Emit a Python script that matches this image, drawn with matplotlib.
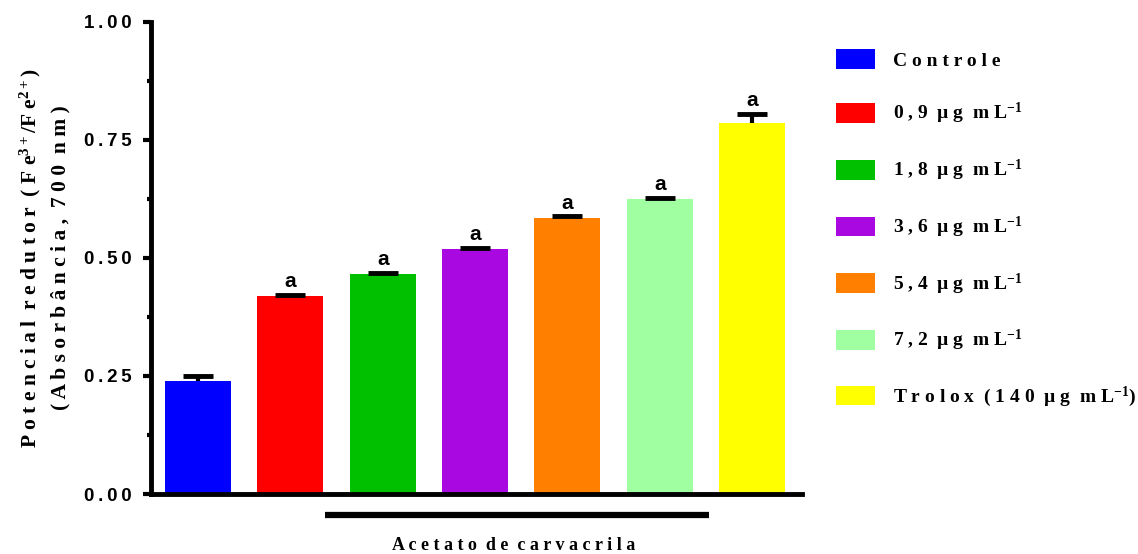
import numpy as np
import matplotlib
matplotlib.use("Agg")
import matplotlib.pyplot as plt

plt.rcParams['mathtext.fontset'] = 'custom'
plt.rcParams['mathtext.rm'] = 'Liberation Serif:bold'
plt.rcParams['mathtext.bf'] = 'Liberation Serif:bold'
plt.rcParams['mathtext.default'] = 'rm'

groups = ["Controle", "0,9 µg mL", "1,8 µg mL", "3,6 µg mL", "5,4 µg mL", "7,2 µg mL", "Trolox (140 µg mL"]
values = [0.239, 0.419, 0.466, 0.519, 0.585, 0.625, 0.786]
errors = [0.011, 0.003, 0.003, 0.003, 0.003, 0.002, 0.019]
letters = ["", "a", "a", "a", "a", "a", "a"]
colors = ["#0000ff", "#ff0000", "#00c000", "#aa08e0", "#ff8000", "#a0ffa0", "#ffff00"]
yticks = [0.00, 0.25, 0.50, 0.75, 1.00]


def spaced(s, gap=" ", word=None):
    word = word if word is not None else gap + gap
    return word.join(gap.join(w) for w in s.split(" "))


def legend_label(s):
    if s == "Controle":
        return spaced(s)
    if s.startswith("Trolox"):
        return spaced(s) + "$^{-1}$" + ")"
    return spaced(s) + "$^{-1}$"


fig = plt.figure(figsize=(11.38, 5.54), dpi=100)
ax = fig.add_axes([0.1327, 0.1083, 0.572, 0.852])

x = np.arange(len(values))
bars = ax.bar(x, values, width=0.714, color=colors, edgecolor="none", zorder=2)
eb = ax.errorbar(x, values, yerr=[np.zeros(len(errors)), errors], fmt="none",
                 ecolor="black", elinewidth=3, capsize=10.5, capthick=3.5, zorder=3)
# keep only the upper caps
for cap in eb[1]:
    if np.allclose(cap.get_ydata(), values):
        cap.set_visible(False)

for xi, v, e, t in zip(x, values, errors, letters):
    if t:
        ax.text(xi, v + e + 0.008, t, ha="center", va="bottom",
                fontsize=15, fontweight="bold",
                family=["Liberation Sans Narrow", "Liberation Sans"])

ax.set_xlim(-0.51, 6.54)
ax.set_ylim(0, 1.0)
ax.set_yticks(yticks)
ax.set_yticklabels([spaced(f"{t:.2f}", "\u2009") for t in yticks], fontsize=13.5,
                   fontweight="bold", family="Liberation Sans")
ax.set_yticks(np.arange(0.125, 1.0, 0.25), minor=True)
ax.set_xticks([])
for s in ["top", "right"]:
    ax.spines[s].set_visible(False)
for s in ["left", "bottom"]:
    ax.spines[s].set_linewidth(3.5)
ax.tick_params(axis="y", which="major", length=6, width=3, pad=8)
ax.tick_params(axis="y", which="minor", length=3, width=3)

g = " "
w = "  "
ylab = (spaced("Potencial redutor (Fe", g, w) + "$^{3+}$" + "/" + "F" + g + "e"
        + "$^{2+}$" + ")\n" + spaced("(Absorbância, 700 nm)", g, w))
ax.set_ylabel(ylab, fontsize=15.5, family="Liberation Serif", fontweight="bold",
              labelpad=10, linespacing=1.45)

# group line for carvacryl acetate concentrations
trans = ax.get_xaxis_transform()
ax.plot([1.37, 5.53], [-0.0445, -0.0445], color="black", lw=4.5,
        transform=trans, clip_on=False, solid_capstyle="butt")
ax.text(3.42, -0.11, spaced("Acetato de carvacrila"), transform=trans,
        ha="center", va="center", fontsize=13, fontweight="bold",
        family="Liberation Serif")

leg = ax.legend(bars, [legend_label(g) for g in groups],
                loc="upper left", bbox_to_anchor=(0.728, 0.925),
                bbox_transform=fig.transFigure, frameon=False,
                prop={"family": "Liberation Serif", "weight": "bold", "size": 14},
                handlelength=2.0, handleheight=1.18, labelspacing=1.62,
                handletextpad=0.9, borderaxespad=0)

fig.savefig("out.png", dpi=100)
